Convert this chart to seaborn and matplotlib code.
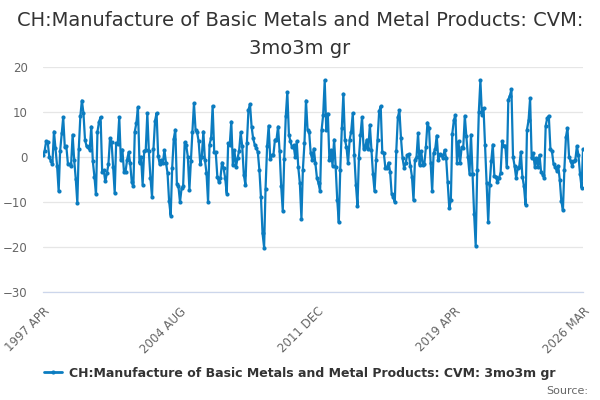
import matplotlib
matplotlib.use("Agg")
import matplotlib.pyplot as plt
from matplotlib.lines import Line2D
import seaborn as sns
import pandas as pd

# Chart text
TITLE = "CH:Manufacture of Basic Metals and Metal Products: CVM:\n3mo3m gr"
SERIES_NAME = "CH:Manufacture of Basic Metals and Metal Products: CVM: 3mo3m gr"
SOURCE = "Source:"
START_MONTH = "1997-04-01"

# Monthly values (1997 APR .. 2026 MAR)
values = [
    0.4, 1.2, 3.4, 3.3, 0, -1, -1.6, 5.6, 1.9, -2,
    -7.7, 1.2, 5.2, 8.8, 2.1, 2.3, -1.6, -1.7, -2, 4.9,
    -0.7, -4.9, -10.3, 1.7, 9, 12.5, 9.7, 3.8, 2.3, 2.1,
    1.5, 6.7, -1, -4.4, -8.4, 5.6, 7.8, 8.8, -3.3, -3,
    -5.5, -3.7, -1.7, 4.1, 3.2, -2.2, -8.1, 3, 2.9, 8.8,
    -0.7, 1.6, -3.3, -3.3, -0.7, 1, -1.5, -5.7, -6.6, 5.6,
    7.5, 11, -1.4, 0, -6.2, 1.3, 1.5, 9.7, 1.2, -4.7,
    -9, 1.7, 8, 9.7, 0.2, -1.7, -0.7, -1.4, 1.5, -1.4,
    -3.6, -9.9, -13.1, -2.5, 4, 6, -6, -6.6, -10.1, -7,
    -6.6, 3.2, 2.5, 0, -7.3, -1, 5.6, 11.9, 6, 5.5,
    3.4, -1.6, 0, 5.6, -0.7, -3.6, -10.1, 2.7, 4.1, 11.3,
    1.1, 1, -4.4, -5.7, -4.7, -1.3, -2.5, -4.7, -8.2, 3,
    2.7, 7.8, -1.8, 1.5, -2.3, -0.3, 1.3, 5.4, 2.3, -4,
    -6.2, 3, 10.4, 11.7, 6.7, 4.1, 2.7, 2, 1, -3,
    -9, -17, -20.2, -7.1, 2.4, 6.9, -0.5, 0.4, 0.3, 3.8,
    3.8, 6.7, 1.2, -6.6, -12.1, -0.5, 9.1, 14.4, 4.9, 3.4,
    2.1, 2.5, 0, 3.4, -2.3, -5.9, -13.9, -2.9, 3, 12.5,
    6, 5.6, 0.8, -0.7, 1.8, -1.5, -4.7, -5.9, -7.7, 5.9,
    9.3, 17, 5.9, 9.6, -0.7, 1.5, -2, 3.8, -2.2, -9.6,
    -14.6, -2.9, 6.4, 14, 3.8, 2.1, -1.5, 3.8, 5.6, 9.7,
    0.4, -6.2, -10.9, -0.3, 4.9, 8.8, 1.8, 2.1, 3.8, 1.8,
    7.1, 1.5, -3.8, -7.7, -0.7, 3.8, 10.1, 11.2, 1, 0.8,
    -2.5, -2.5, -1.3, -3.3, -8.2, -9, -10.1, 1.3, 8.8, 10.3,
    4.1, -0.3, -2.5, -1.4, 0.4, 0.5, -2, -4.4, -9.7, -0.7,
    0, 5.2, -1.8, 1.2, -1.8, -1.6, 2.1, 7.6, 6.4, -1.3,
    -7.7, 0.8, 1.7, 4.7, -0.7, 0.5, 0.4, -0.3, 1.5, -0.3,
    -5.7, -11.4, -9.7, 5.1, 8.1, 9.3, -1.3, 3.4, -1.3, 2.1,
    1.9, 9.1, 4.7, 0, -3.8, 4.9, -3.8, -12.7, -19.8, -2.9,
    9.9, 17, 9.3, 10.8, 2.7, -5.9, -14.6, -6.2, -1, 2.7,
    -4.2, -4.4, -5.7, -4.7, -3.6, 3.4, 2.4, 2.4, -2.3, 12.7,
    13.6, 15, 0, -2, -4.7, -2.5, -2.2, 1.1, -4.4, -6.6,
    -10.7, 6, 8.1, 13, -0.3, 0.8, -2.2, -0.3, -2.2, 0.4,
    -3.3, -4, -4.7, 6.9, 8.6, 9.1, 1.8, 1.2, -1.6, -2.2,
    -3.1, -2, -5.1, -9.9, -11.9, -2.9, 4.4, 6.4, 0, -1,
    -2, -1, -0.8, 2.4, 0.4, -3.8, -6.9, 1.7,
]

y_ticks = [-30, -20, -10, 0, 10, 20]
TICK_STEP = 22      # months between x ticks
LABEL_EVERY = 88    # months between labelled ticks

LINE_COLOR = "#0b7cc0"

dates = pd.date_range(START_MONTH, periods=len(values), freq="MS")
df = pd.DataFrame({"date": dates, "value": values})

sns.set_style("white")
plt.rcParams["font.family"] = ["DejaVu Sans"]

fig = plt.figure(figsize=(6, 4), dpi=100)
ax = fig.add_axes([0.0717, 0.271, 0.9, 0.562])

sns.lineplot(data=df, x="date", y="value", ax=ax, color=LINE_COLOR,
             linewidth=1.6, marker="o", markersize=3, markeredgewidth=0)

# y axis
ax.set_ylim(y_ticks[0], y_ticks[-1])
ax.set_yticks(y_ticks)
ax.yaxis.grid(True, color="#e6e6e6", linewidth=0.9)
ax.set_axisbelow(True)
ax.tick_params(axis="y", length=0, pad=11, labelsize=8.5, labelcolor="#666666")

# x axis ticks every 22 months, plus the last month
tick_idx = list(range(0, len(dates), TICK_STEP))
if tick_idx[-1] != len(dates) - 1:
    tick_idx.append(len(dates) - 1)
tick_labels = []
for i in tick_idx:
    d = dates[i]
    if i % LABEL_EVERY == 0 or i == len(dates) - 1:
        tick_labels.append(f"{d.year} {d.strftime('%b').upper()}")
    else:
        tick_labels.append("")
ax.set_xlim(dates[0], dates[-1])
ax.set_xticks([dates[i] for i in tick_idx])
ax.set_xticklabels(tick_labels, rotation=45, ha="right", rotation_mode="anchor")
ax.tick_params(axis="x", length=6.5, width=0.8, color="#ccd6eb", pad=3,
               labelsize=8.5, labelcolor="#666666")

for side in ["top", "right", "left"]:
    ax.spines[side].set_visible(False)
ax.spines["bottom"].set_color("#ccd6eb")
ax.spines["bottom"].set_linewidth(0.9)
ax.set_xlabel("")
ax.set_ylabel("")

fig.text(0.5, 0.972, TITLE, ha="center", va="top", fontsize=14,
         color="#333333", linespacing=1.58)

handle = Line2D([0], [0], color=LINE_COLOR, linewidth=2, marker="o",
                markersize=3, markeredgewidth=0)
fig.legend([handle], [SERIES_NAME], loc="center", bbox_to_anchor=(0.5, 1 - 373 / 400),
           frameon=False, prop={"weight": "bold", "size": 9}, labelcolor="#333333",
           handlelength=1.4, handletextpad=0.6)

fig.text(0.98, 1 - 391 / 400, SOURCE, ha="right", va="center", fontsize=8,
         color="#666666")

fig.savefig("out.png", dpi=100)
